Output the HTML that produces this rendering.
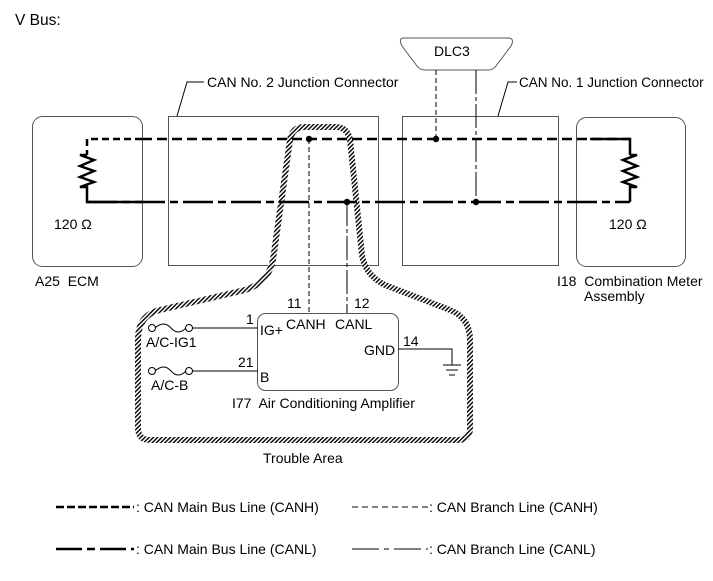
<!DOCTYPE html>
<html><head><meta charset="utf-8"><style>
html,body{margin:0;padding:0;background:#fff;}
svg{display:block;font-family:"Liberation Sans",Arial,sans-serif;}
text{white-space:pre;}
</style></head><body>
<svg width="713" height="581" viewBox="0 0 713 581" xmlns="http://www.w3.org/2000/svg" xml:space="preserve">
<defs>
<pattern id="h" width="3" height="3" patternUnits="userSpaceOnUse" patternTransform="rotate(45)">
<rect width="3" height="3" fill="#fff"/><rect width="1.4" height="3" fill="#000"/>
</pattern>
</defs>
<text x="15" y="25" font-size="15.5">V Bus:</text>
<rect x="32.5" y="116.5" width="110" height="150" rx="10" fill="none" stroke="#555" stroke-width="1"/>
<rect x="168.5" y="116.5" width="210" height="149" fill="none" stroke="#555" stroke-width="1"/>
<rect x="402.5" y="116.5" width="156" height="149" fill="none" stroke="#555" stroke-width="1"/>
<rect x="576.5" y="117.5" width="109" height="149" rx="10" fill="none" stroke="#555" stroke-width="1"/>
<polyline points="177,116 187,82 204,82" fill="none" stroke="#000" stroke-width="1"/>
<text x="207" y="87" font-size="14">CAN No. 2 Junction Connector</text>
<polyline points="498,116 508,82 517,82" fill="none" stroke="#000" stroke-width="1"/>
<text x="519" y="87" font-size="13.5">CAN No. 1 Junction Connector</text>
<path d="M404,38 L508,38 Q515,38 511,46 L496,66 Q493,70 488,70 L426,70 Q420,70 417,66 L402,46 Q398,38 404,38 Z" fill="#fff" stroke="#555" stroke-width="1"/>
<text x="434" y="56" font-size="14">DLC3</text>
<path d="M290,140 Q292,127 305,127 L335,127 Q348,127 350,140 L362,255 Q365,275 385,285 L450,310 Q470,318 470,340 L470,428 Q470,440 458,440 L150,440 Q138,440 138,428 L138,340 Q138,315 160,310 L245,290 Q268,283 273,260 Z" fill="none" stroke="url(#h)" stroke-width="6"/>
<polyline points="142,139 87,139 87,155" fill="none" stroke="#000" stroke-width="2.5" stroke-dasharray="7,4"/>
<line x1="142" y1="139" x2="630" y2="139" stroke="#000" stroke-width="2.5" stroke-dasharray="10,5"/>
<polyline points="590,139 630,139 630,155" fill="none" stroke="#000" stroke-width="2.5"/>
<polyline points="87,155 80,155 94,160 80,166 94,171 80,177 94,182 80,187 87,187 87,202 142,202" fill="none" stroke="#000" stroke-width="2.5"/>
<polyline points="630,155 637,155 623,160 637,166 623,171 637,177 623,182 637,187 630,187 630,202" fill="none" stroke="#000" stroke-width="2.5"/>
<line x1="87" y1="202" x2="630" y2="202" stroke="#000" stroke-width="2.5" stroke-dasharray="30,5,8,5"/>
<text x="54" y="229" font-size="14">120 Ω</text>
<text x="609" y="229" font-size="14">120 Ω</text>
<line x1="436" y1="70" x2="436" y2="139" stroke="#000" stroke-width="1" stroke-dasharray="5,3"/>
<line x1="476" y1="70" x2="476" y2="202" stroke="#000" stroke-width="1" stroke-dasharray="24,3,4,3"/>
<line x1="309" y1="139" x2="309" y2="313" stroke="#000" stroke-width="1" stroke-dasharray="5,3"/>
<line x1="347" y1="202" x2="347" y2="313" stroke="#000" stroke-width="1" stroke-dasharray="24,3,4,3"/>
<circle cx="309" cy="139" r="3.2"/><circle cx="436" cy="139" r="3.2"/>
<circle cx="347" cy="202" r="3.2"/><circle cx="476" cy="202" r="3.2"/>
<text x="35" y="286" font-size="14">A25  ECM</text>
<text x="557" y="286" font-size="14">I18  Combination Meter</text>
<text x="584" y="301" font-size="14">Assembly</text>
<rect x="257.5" y="313.5" width="141" height="77" rx="8" fill="#fff" stroke="#555" stroke-width="1"/>
<text x="287" y="308" font-size="14">11</text>
<text x="354" y="308" font-size="14">12</text>
<text x="286" y="329" font-size="14">CANH</text>
<text x="335" y="329" font-size="14">CANL</text>
<text x="246" y="324" font-size="14">1</text>
<text x="260" y="335" font-size="14">IG+</text>
<text x="364" y="355" font-size="14">GND</text>
<text x="403" y="346" font-size="14">14</text>
<text x="238" y="367" font-size="14">21</text>
<text x="260" y="382" font-size="14">B</text>
<text x="232" y="408" font-size="14">I77  Air Conditioning Amplifier</text>
<circle cx="152" cy="328" r="3.5" fill="#fff" stroke="#000" stroke-width="1"/>
<circle cx="189" cy="328" r="3.5" fill="#fff" stroke="#000" stroke-width="1"/>
<path d="M155,328 Q164,320 171,328 Q178,336 186,328" fill="none" stroke="#000" stroke-width="1"/>
<line x1="192" y1="328" x2="258" y2="328" stroke="#000" stroke-width="1"/>
<text x="146" y="347" font-size="14">A/C-IG1</text>
<circle cx="152" cy="371" r="3.5" fill="#fff" stroke="#000" stroke-width="1"/>
<circle cx="189" cy="371" r="3.5" fill="#fff" stroke="#000" stroke-width="1"/>
<path d="M155,371 Q164,363 171,371 Q178,379 186,371" fill="none" stroke="#000" stroke-width="1"/>
<line x1="192" y1="371" x2="258" y2="371" stroke="#000" stroke-width="1"/>
<text x="151" y="390" font-size="14">A/C-B</text>
<polyline points="398,349 452,349 452,365" fill="none" stroke="#000" stroke-width="1"/>
<line x1="443" y1="365" x2="461" y2="365" stroke="#000" stroke-width="1"/>
<line x1="446" y1="370" x2="458" y2="370" stroke="#000" stroke-width="1"/>
<line x1="449" y1="375" x2="455" y2="375" stroke="#000" stroke-width="1"/>
<text x="263" y="463" font-size="14">Trouble Area</text>
<line x1="56" y1="507" x2="134" y2="507" stroke="#000" stroke-width="2.5" stroke-dasharray="8,3"/>
<text x="136" y="512" font-size="14">: CAN Main Bus Line (CANH)</text>
<line x1="352" y1="507" x2="428" y2="507" stroke="#000" stroke-width="1" stroke-dasharray="6,4"/>
<text x="429" y="512" font-size="14">: CAN Branch Line (CANH)</text>
<line x1="56" y1="549" x2="134" y2="549" stroke="#000" stroke-width="2.5" stroke-dasharray="26,5,8,5"/>
<text x="136" y="554" font-size="14">: CAN Main Bus Line (CANL)</text>
<line x1="352" y1="549" x2="428" y2="549" stroke="#000" stroke-width="1" stroke-dasharray="27,5,5,5"/>
<text x="429" y="554" font-size="14">: CAN Branch Line (CANL)</text>
</svg>
</body></html>
